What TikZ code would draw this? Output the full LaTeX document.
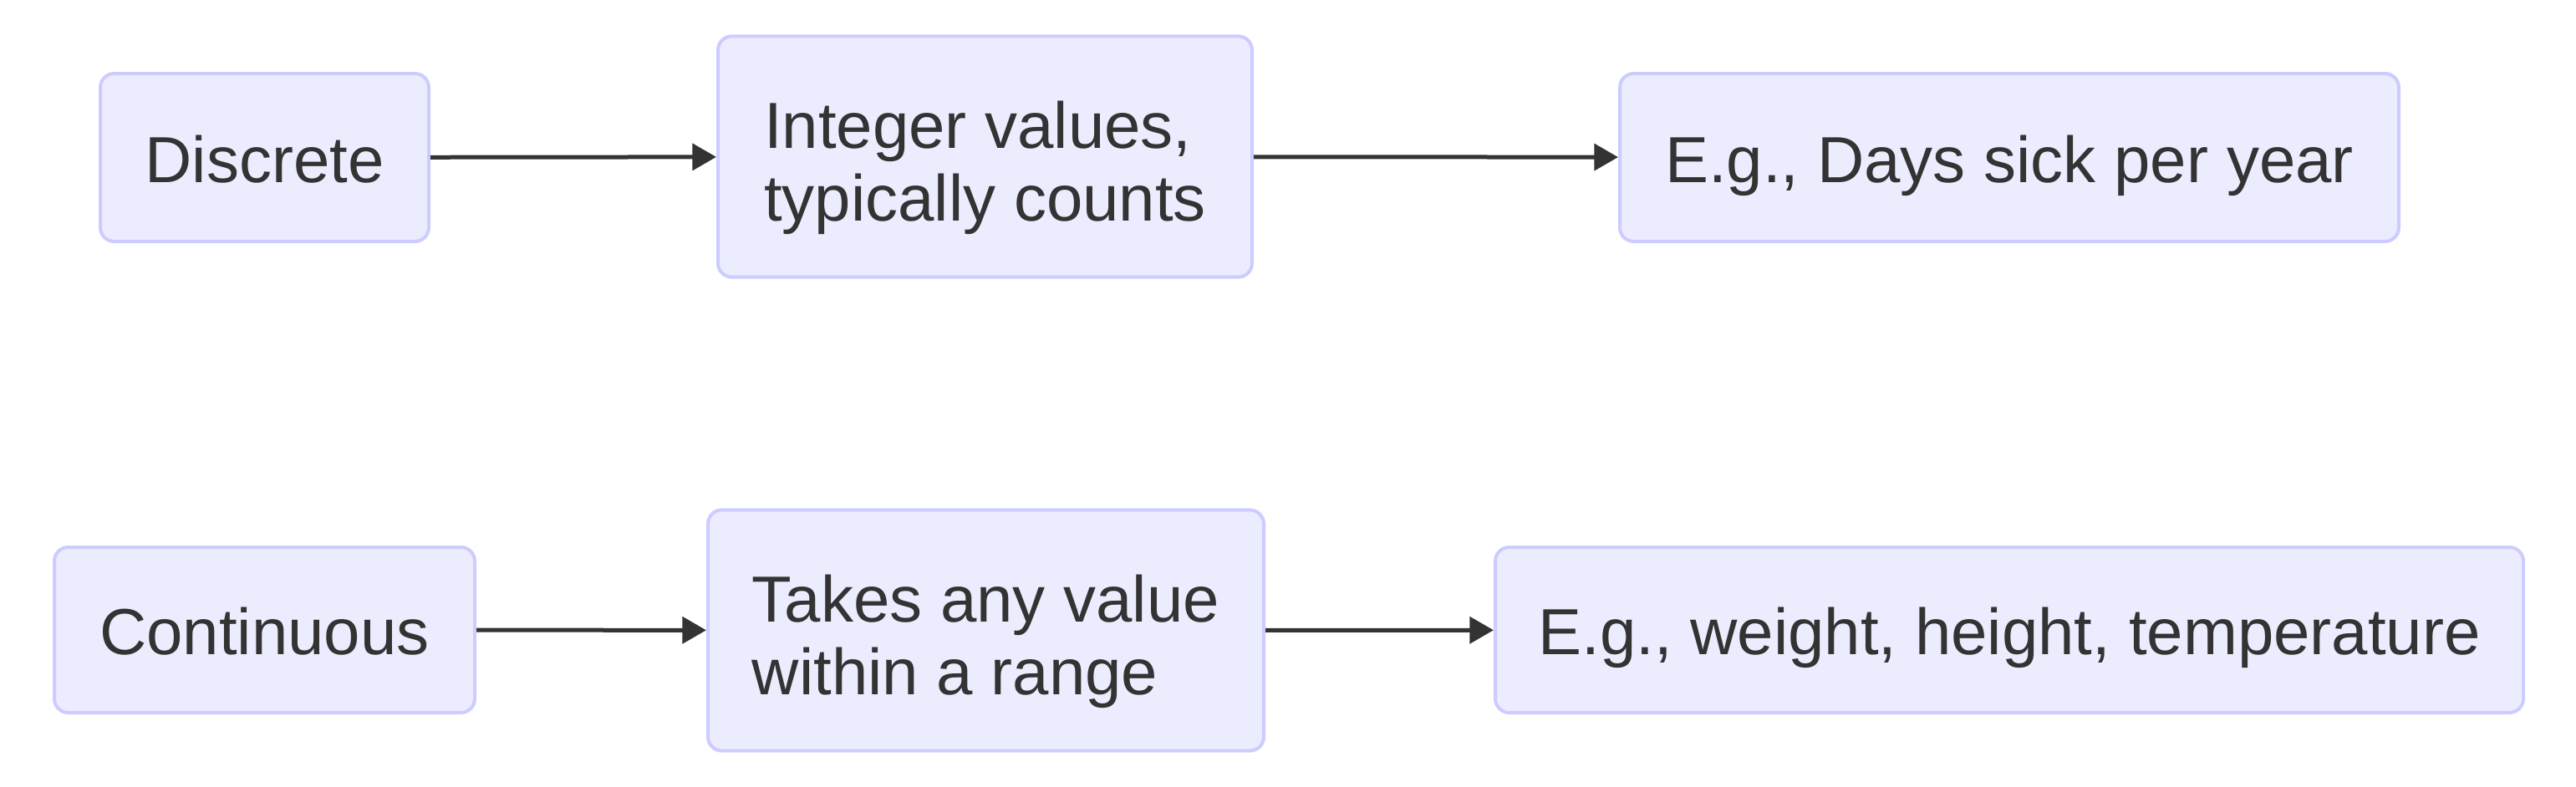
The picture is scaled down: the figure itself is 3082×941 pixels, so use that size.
\documentclass[tikz,border=0pt]{standalone}
\usepackage{fontspec}
\setmainfont{Liberation Sans}
\usepackage{tikz}
\usetikzlibrary{arrows.meta,positioning}
\definecolor{mmfill}{RGB}{236,236,255}
\definecolor{mmdraw}{RGB}{204,204,255}
\definecolor{mmtext}{RGB}{51,51,51}
\tikzset{
  box/.style={draw=mmdraw, fill=mmfill, rounded corners=5pt, line width=1.2pt,
              align=center, text=mmtext, inner sep=0pt, minimum height=60.3pt,
              text height=17.7pt, text depth=0pt,
              font=\fontsize{23.4}{26.3}\selectfont},
  tallbox/.style={box, align=left, minimum height=86.5pt,
                  text height=46.3pt, text depth=0pt},
  arrow/.style={-{Triangle[length=8.6pt, width=9.5pt]}, line width=1.5pt, draw=mmtext},
}
\begin{document}
\begin{tikzpicture}[x=0.3pt, y=-0.3pt]
\useasboundingbox (0,0) rectangle (3082,941);

% ---------------- top row: discrete data ----------------
\node[box, minimum width=117.9pt] (disc) at (316.5,188.5) {Discrete};
\node[tallbox, minimum width=191.7pt] (integer) at (1178.5,187.5)
  {Integer values,\\typically counts};
\node[box, minimum width=279.6pt] (days) at (2404,188.5) {E.g., Days sick per year};

\draw[arrow] (disc) -- (integer);
\draw[arrow] (integer) -- (days);

% ---------------- bottom row: continuous data ----------------
\node[box, minimum width=150.9pt, minimum height=59.4pt] (cont) at (316.5,754) {Continuous};
\node[tallbox, minimum width=199.5pt] (anyval) at (1179.5,754.5)
  {Takes any value\\within a range};
\node[box, minimum width=369pt, minimum height=59.4pt] (weight) at (2404,754)
  {E.g., weight, height, temperature};

\draw[arrow] (cont) -- (anyval);
\draw[arrow] (anyval) -- (weight);
\end{tikzpicture}
\end{document}
